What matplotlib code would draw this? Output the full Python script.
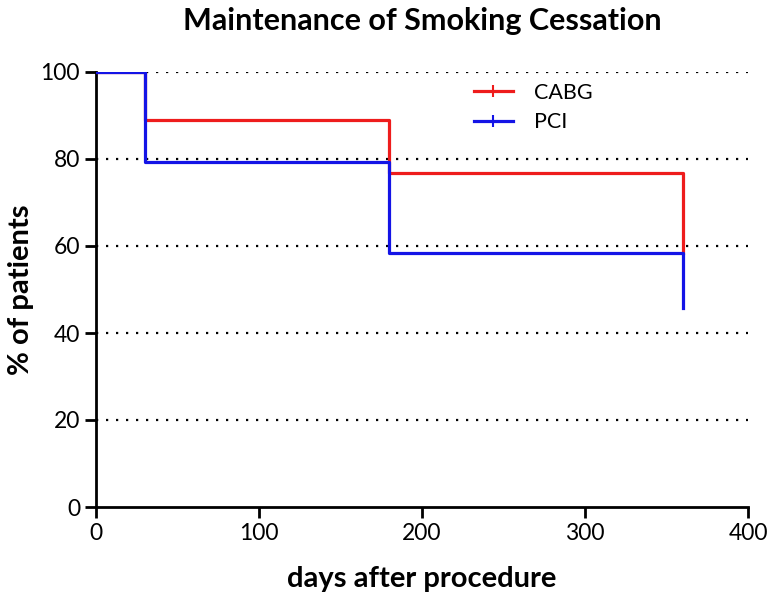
import matplotlib.pyplot as plt
from matplotlib.lines import Line2D

plt.rcParams['font.family'] = ['Lato', 'DejaVu Sans']

# Kaplan-Meier style step data (days, % of patients)
cabg_days = [0, 30, 180, 360]
cabg_pct = [100, 88.9, 76.7, 58.3]
pci_days = [0, 30, 180, 360]
pci_pct = [100, 79.2, 58.3, 45.8]

x_ticks = [0, 100, 200, 300, 400]
y_ticks = [0, 20, 40, 60, 80, 100]

RED = '#ee1c1c'
BLUE = '#1414e6'

fig = plt.figure(figsize=(7.71, 5.96), dpi=100)
ax = fig.add_axes([96 / 771, 89 / 596, 652 / 771, 435 / 596])

for y in y_ticks[1:]:
    ax.axhline(y, color='black', linestyle=(0, (1, 3.5)), linewidth=1.6, zorder=1)

ax.step(cabg_days, cabg_pct, where='post', color=RED, linewidth=2.3, zorder=3)
ax.step(pci_days, pci_pct, where='post', color=BLUE, linewidth=2.3, zorder=4)

ax.set_xlim(0, 400)
ax.set_ylim(0, 100)
ax.set_xticks(x_ticks)
ax.set_yticks(y_ticks)
ax.spines['top'].set_visible(False)
ax.spines['right'].set_visible(False)
ax.spines['left'].set_linewidth(2)
ax.spines['bottom'].set_linewidth(2)
ax.tick_params(width=2, length=8, labelsize=16.5, direction='out')

ax.set_title('Maintenance of Smoking Cessation', fontsize=22, fontweight='bold', pad=30)
ax.set_xlabel('days after procedure', fontsize=21, fontweight='bold', labelpad=16)
ax.set_ylabel('% of patients', fontsize=21, fontweight='bold', labelpad=5)

handles = [
    Line2D([0], [0], color=RED, linewidth=2.3, marker='|', markersize=8, markeredgewidth=1.5),
    Line2D([0], [0], color=BLUE, linewidth=2.3, marker='|', markersize=8, markeredgewidth=1.5),
]
ax.legend(handles, ['CABG', 'PCI'], loc='upper left', bbox_to_anchor=(0.55, 1.02),
          frameon=False, fontsize=15.5, handlelength=1.8, labelspacing=0.45,
          handletextpad=1.0)

fig.savefig('out.png', dpi=100)
